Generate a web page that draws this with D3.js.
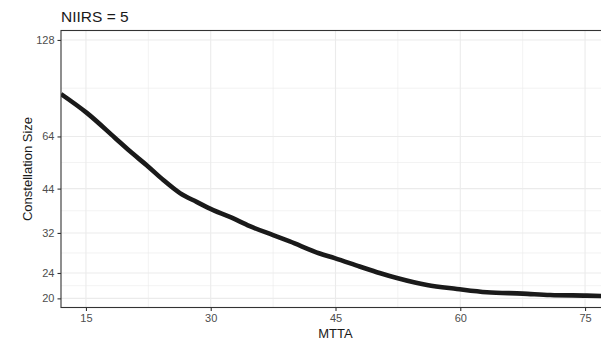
<!DOCTYPE html>
<html>
<head>
<meta charset="utf-8">
<script src="https://cdn.jsdelivr.net/npm/d3@7"></script>
<style>
  html, body { margin: 0; padding: 0; background: #ffffff; }
  svg { display: block; font-family: "Liberation Sans", Arial, sans-serif; }
</style>
</head>
<body>
<svg id="chart" width="601" height="340"></svg>
<script>
// Constellation size needed for NIIRS = 5 as a function of MTTA
const mtta = [12, 15.1, 18.5, 20.3, 22.5, 24.3, 26.3, 28.3, 30.3, 32.3, 34.7, 37.5, 39.5, 43.1, 44.9, 47.9, 50.3, 52.5, 56.0, 59.6, 63.2, 67.5, 70.8, 75.2, 77];
const constellationSize = [86.8, 75.8, 63.3, 57.5, 51.5, 46.8, 42.6, 40.0, 37.7, 35.9, 33.6, 31.5, 30.1, 27.6, 26.7, 25.15, 24.0, 23.1, 22.0, 21.4, 20.9, 20.7, 20.5, 20.4, 20.35];

const xTicks = [15, 30, 45, 60, 75];
const xMinor = [22.5, 37.5, 52.5, 67.5];
const yTicks = [20, 24, 32, 44, 64, 128];

const titleText = "NIIRS = 5";
const xTitle = "MTTA";
const yTitle = "Constellation Size";

const svg = d3.select("#chart");
const panel = { left: 61, top: 30.5, right: 610, bottom: 307.5 };

const x = d3.scaleLinear().domain([12, 78]).range([panel.left, panel.right]);
const y = d3.scaleLog().domain([18.73, 137.0]).range([panel.bottom, panel.top]);

// minor breaks sit halfway between majors on the log scale
const yMinor = d3.pairs(yTicks).map(([a, b]) => Math.sqrt(a * b));

const gridColor = "#ebebeb";

svg.append("defs").append("clipPath").attr("id", "panel-clip")
  .append("rect")
  .attr("x", panel.left).attr("y", panel.top)
  .attr("width", panel.right - panel.left).attr("height", panel.bottom - panel.top);

const grid = svg.append("g");
grid.selectAll(".ymin").data(yMinor).enter().append("line")
  .attr("x1", panel.left).attr("x2", panel.right)
  .attr("y1", d => y(d)).attr("y2", d => y(d))
  .attr("stroke", gridColor).attr("stroke-width", 0.6);
grid.selectAll(".xmin").data(xMinor).enter().append("line")
  .attr("y1", panel.top).attr("y2", panel.bottom)
  .attr("x1", d => x(d)).attr("x2", d => x(d))
  .attr("stroke", gridColor).attr("stroke-width", 0.6);
grid.selectAll(".ymaj").data(yTicks).enter().append("line")
  .attr("x1", panel.left).attr("x2", panel.right)
  .attr("y1", d => y(d)).attr("y2", d => y(d))
  .attr("stroke", gridColor).attr("stroke-width", 1.1);
grid.selectAll(".xmaj").data(xTicks).enter().append("line")
  .attr("y1", panel.top).attr("y2", panel.bottom)
  .attr("x1", d => x(d)).attr("x2", d => x(d))
  .attr("stroke", gridColor).attr("stroke-width", 1.1);

// the curve
const line = d3.line()
  .x((d, i) => x(mtta[i]))
  .y(d => y(d))
  .curve(d3.curveMonotoneX);

svg.append("path")
  .datum(constellationSize)
  .attr("clip-path", "url(#panel-clip)")
  .attr("fill", "none")
  .attr("stroke", "#1a1a1a")
  .attr("stroke-width", 4.6)
  .attr("stroke-linecap", "butt")
  .attr("stroke-linejoin", "round")
  .attr("d", line);

// panel border
svg.append("rect")
  .attr("x", panel.left).attr("y", panel.top)
  .attr("width", panel.right - panel.left).attr("height", panel.bottom - panel.top)
  .attr("fill", "none").attr("stroke", "#333333").attr("stroke-width", 1.1);

// axes
const yAxis = d3.axisLeft(y).tickValues(yTicks).tickFormat(d3.format("d"))
  .tickSizeInner(3.5).tickSizeOuter(0).tickPadding(3);
const gy = svg.append("g").attr("transform", `translate(${panel.left},0)`).call(yAxis);
const xAxis = d3.axisBottom(x).tickValues(xTicks).tickFormat(d3.format("d"))
  .tickSizeInner(3.5).tickSizeOuter(0).tickPadding(3);
const gx = svg.append("g").attr("transform", `translate(0,${panel.bottom})`).call(xAxis);

[gx, gy].forEach(g => {
  g.select(".domain").remove();
  g.selectAll(".tick line").attr("stroke", "#333333").attr("stroke-width", 1.1);
  g.selectAll(".tick text").attr("fill", "#4d4d4d").style("font-size", "11px")
    .style("font-family", "'Liberation Sans', Arial, sans-serif");
});

// titles
svg.append("text")
  .attr("x", panel.left).attr("y", 21.5)
  .attr("fill", "#1a1a1a").style("font-size", "15.5px")
  .text(titleText);

svg.append("text")
  .attr("x", x(45)).attr("y", 338)
  .attr("text-anchor", "middle")
  .attr("fill", "#1a1a1a").style("font-size", "13px")
  .text(xTitle);

svg.append("text")
  .attr("transform", `translate(32,${(panel.top + panel.bottom) / 2}) rotate(-90)`)
  .attr("text-anchor", "middle")
  .attr("fill", "#1a1a1a").style("font-size", "13px")
  .text(yTitle);
</script>
</body>
</html>
